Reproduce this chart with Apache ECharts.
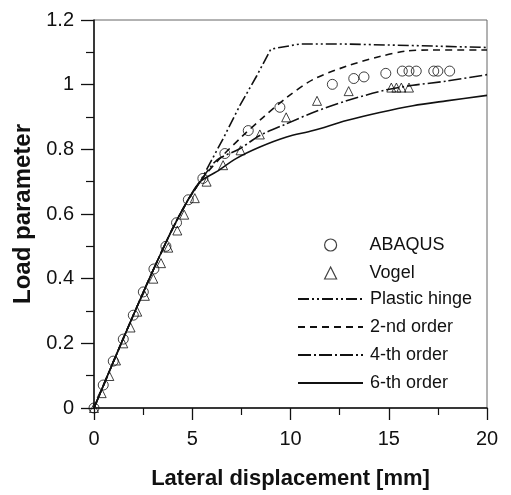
<!DOCTYPE html>
<html>
<head>
<meta charset="utf-8">
<script src="https://cdn.jsdelivr.net/npm/echarts@6/dist/echarts.min.js"></script>
<style>
  html, body { margin: 0; padding: 0; background: #fff; }
  #chart { width: 511px; height: 495px; }
</style>
</head>
<body>
<div id="chart"></div>
<script>
// Data: [lateral displacement mm, load parameter]
const abaqus = [
    [0, 0], [0.47, 0.071], [0.98, 0.145], [1.49, 0.213], [2.0, 0.287],
    [2.51, 0.359], [3.05, 0.43], [3.66, 0.50], [4.2, 0.573], [4.8, 0.644],
    [5.54, 0.71], [6.66, 0.787], [7.85, 0.858], [9.46, 0.93], [12.13, 1.001],
    [13.22, 1.019], [13.74, 1.024], [14.85, 1.035], [15.69, 1.042], [16.03, 1.042],
    [16.4, 1.042], [17.29, 1.042], [17.5, 1.042], [18.1, 1.042]
];
const vogel = [
    [0, 0], [0.39, 0.046], [0.78, 0.099], [1.12, 0.147], [1.49, 0.2],
    [1.86, 0.249], [2.2, 0.298], [2.59, 0.347], [3.02, 0.40], [3.41, 0.448],
    [3.78, 0.496], [4.24, 0.549], [4.59, 0.598], [5.13, 0.649], [5.73, 0.70],
    [6.57, 0.751], [7.46, 0.797], [8.44, 0.846], [9.78, 0.899], [11.35, 0.95],
    [12.96, 0.98], [15.13, 0.991], [15.39, 0.991], [15.64, 0.991], [16.03, 0.991]
];
// shared initial (elastic) branch of all analytical curves
const elastic = [[0, 0], [1, 0.145], [2, 0.287], [3, 0.425], [4, 0.555], [4.8, 0.645], [5.4, 0.70]];
const plasticHinge = [[6.57, 0.833], [7.42, 0.935], [8.27, 1.026], [9.0, 1.11], [10.5, 1.126], [12.5, 1.126], [16.2, 1.121], [20, 1.115]];
const secondOrder = [[5.64, 0.72], [6.57, 0.782], [7.59, 0.843], [8.61, 0.899], [9.8, 0.96], [11.15, 1.016], [12.85, 1.057], [14.54, 1.087], [15.9, 1.104], [17, 1.107], [20, 1.107]];
const fourthOrder = [[6.24, 0.766], [7.42, 0.802], [8.44, 0.843], [9.8, 0.879], [11.15, 0.914], [12.85, 0.95], [14.88, 0.984], [16.23, 0.998], [17.93, 1.011], [20, 1.031]];
const sixthOrder = [[6.24, 0.731], [7.25, 0.772], [8.44, 0.807], [9.8, 0.838], [11.15, 0.858], [12.85, 0.889], [14.54, 0.914], [16.23, 0.935], [17.93, 0.95], [20, 0.967]];

const xTicks = [0, 5, 10, 15, 20];
const yTicks = [0, 0.2, 0.4, 0.6, 0.8, 1, 1.2];

const FONT = 'Liberation Sans, Arial, sans-serif';
const chart = echarts.init(document.getElementById('chart'), null, { renderer: 'canvas' });

function lineSeries(name, pts, dash) {
    return {
        name: name,
        type: 'line',
        data: elastic.concat(pts),
        showSymbol: false,
        symbol: 'none',
        smooth: name === 'Plastic hinge' ? false : 0.3,
        itemStyle: { color: '#111' },
        lineStyle: { color: '#111', width: 1.6, type: dash },
        animation: false,
        z: 2
    };
}

chart.setOption({
    backgroundColor: '#fff',
    animation: false,
    grid: {
        left: 94, right: 24, top: 20, bottom: 83,
        show: true, borderColor: '#666', borderWidth: 1
    },
    legend: [
        {
            orient: 'vertical',
            left: 319, top: 231,
            itemWidth: 12, itemHeight: 12,
            itemGap: 10,
            textStyle: { fontFamily: FONT, fontSize: 18, color: '#111', padding: [0, 0, 0, 28] },
            data: [
                { name: 'ABAQUS', icon: 'circle' },
                { name: 'Vogel', icon: 'triangle' }
            ],
            itemStyle: { color: '#fff', borderColor: '#111', borderWidth: 1.2 }
        },
        {
            orient: 'vertical',
            left: 292, top: 285,
            itemWidth: 65, itemHeight: 14,
            itemGap: 10,
            textStyle: { fontFamily: FONT, fontSize: 18, color: '#111', padding: [0, 0, 0, 2] },
            itemStyle: { opacity: 0 },
            data: ['Plastic hinge', '2-nd order', '4-th order', '6-th order']
        }
    ],
    xAxis: {
        type: 'value',
        min: xTicks[0], max: xTicks[xTicks.length - 1], interval: 5,
        name: 'Lateral displacement [mm]',
        nameLocation: 'middle', nameGap: 60,
        nameTextStyle: { fontFamily: FONT, fontSize: 22, fontWeight: 'bold', color: '#111' },
        axisLine: { onZero: false, lineStyle: { color: '#111', width: 1.5 } },
        axisTick: { inside: false, length: 12, lineStyle: { color: '#111', width: 1.3 } },
        minorTick: { show: true, splitNumber: 2, length: 7, lineStyle: { color: '#111', width: 1.2 } },
        axisLabel: { fontFamily: FONT, fontSize: 20, color: '#111', margin: 21 },
        splitLine: { show: false }
    },
    yAxis: {
        type: 'value',
        min: yTicks[0], max: yTicks[yTicks.length - 1], interval: 0.2,
        name: 'Load parameter',
        nameLocation: 'middle', nameGap: 57,
        nameTextStyle: { fontFamily: FONT, fontSize: 24, fontWeight: 'bold', color: '#111' },
        axisLine: { onZero: false, lineStyle: { color: '#111', width: 1.5 } },
        axisTick: { inside: false, length: 13, lineStyle: { color: '#111', width: 1.3 } },
        minorTick: { show: true, splitNumber: 2, length: 8, lineStyle: { color: '#111', width: 1.2 } },
        axisLabel: { fontFamily: FONT, fontSize: 20, color: '#111', margin: 20 },
        splitLine: { show: false }
    },
    series: [
        {
            name: 'ABAQUS', type: 'scatter', data: abaqus,
            symbol: 'circle', symbolSize: 10,
            itemStyle: { color: 'rgba(255,255,255,0)', borderColor: '#111', borderWidth: 1 },
            z: 3
        },
        {
            name: 'Vogel', type: 'scatter', data: vogel,
            symbol: 'triangle', symbolSize: 9,
            itemStyle: { color: 'rgba(255,255,255,0)', borderColor: '#111', borderWidth: 1 },
            z: 3
        },
        lineSeries('Plastic hinge', plasticHinge, [11, 3, 2, 3, 2, 3]),
        lineSeries('2-nd order', secondOrder, [7, 5]),
        lineSeries('4-th order', fourthOrder, [13, 3, 2, 3]),
        lineSeries('6-th order', sixthOrder, 'solid')
    ]
});
</script>
</body>
</html>
